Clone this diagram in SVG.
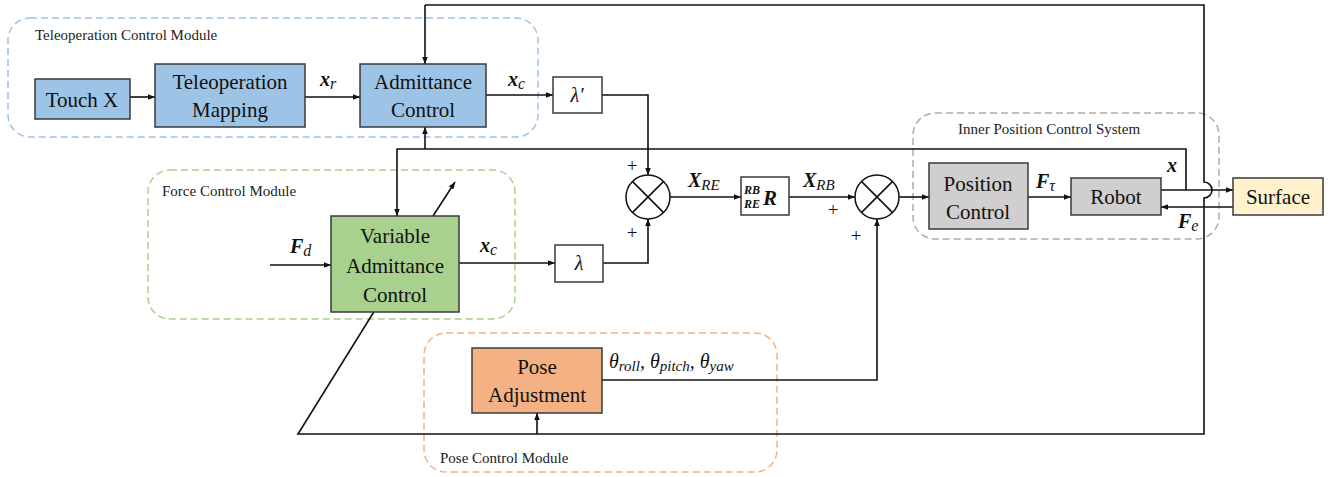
<svg xmlns="http://www.w3.org/2000/svg" width="1335" height="477" viewBox="0 0 1335 477">
<style>
.box{stroke:#3a3a3a;stroke-width:1.5}
.mod{font-family:'Liberation Serif',serif;font-size:15px;fill:#222}
.m{font-family:'Liberation Serif',serif;font-size:20px;fill:#111}
.b{font-weight:bold;font-style:italic}
.i{font-style:italic}
.ln{fill:none;stroke:#111;stroke-width:1.6}
.dash{fill:none;stroke-width:1.5;stroke-dasharray:7,4}
.plus{font-family:'Liberation Serif',serif;font-size:19px;fill:#111;text-anchor:middle}
</style>
<defs>
<marker id="ah" viewBox="0 0 10 10" refX="10" refY="5" markerWidth="7" markerHeight="7" orient="auto" markerUnits="userSpaceOnUse">
<path d="M0,1 L10,5 L0,9 z" fill="#111"/>
</marker>
</defs>
<rect width="1335" height="477" fill="#fff"/>

<g id="modules">
<rect x="8" y="18" width="530" height="119" rx="22" class="dash" stroke="#9DC3E6"/>
<text class="mod" x="35" y="40">Teleoperation Control Module</text>
<rect x="148" y="170" width="367" height="149" rx="22" class="dash" stroke="#A9D18E"/>
<text class="mod" x="162" y="196">Force Control Module</text>
<rect x="424" y="333" width="353" height="139" rx="22" class="dash" stroke="#F4B183"/>
<text class="mod" x="440" y="463">Pose Control Module</text>
<rect x="913" y="113" width="306" height="126" rx="22" class="dash" stroke="#AFABAB"/>
<text class="mod" x="958" y="134">Inner Position Control System</text>
</g>

<g id="connectors">
<line class="ln" x1="130" y1="97" x2="155" y2="97" marker-end="url(#ah)"/>
<line class="ln" x1="305" y1="97" x2="360" y2="97" marker-end="url(#ah)"/>
<line class="ln" x1="486" y1="95" x2="553" y2="95" marker-end="url(#ah)"/>
<polyline class="ln" points="602,95 648,95 648,175" marker-end="url(#ah)"/>
<line class="ln" x1="459" y1="263" x2="555" y2="263" marker-end="url(#ah)"/>
<polyline class="ln" points="603,263 648,263 648,219" marker-end="url(#ah)"/>
<line class="ln" x1="270" y1="265" x2="331" y2="265" marker-end="url(#ah)"/>
<line class="ln" x1="670" y1="197" x2="741" y2="197" marker-end="url(#ah)"/>
<line class="ln" x1="789" y1="197" x2="855" y2="197" marker-end="url(#ah)"/>
<line class="ln" x1="899" y1="197" x2="929" y2="197" marker-end="url(#ah)"/>
<line class="ln" x1="1028" y1="197" x2="1071" y2="197" marker-end="url(#ah)"/>
<line class="ln" x1="1161" y1="190" x2="1233" y2="190" marker-end="url(#ah)"/>
<line class="ln" x1="1233" y1="207" x2="1161" y2="207" marker-end="url(#ah)"/>
<polyline class="ln" points="1186,190 1186,149 397,149 397,216" marker-end="url(#ah)"/>
<line class="ln" x1="425" y1="149" x2="425" y2="127" marker-end="url(#ah)"/>
<polyline class="ln" points="602,380 877,380 877,219" marker-end="url(#ah)"/>
<path class="ln" d="M425,5 L1204,5 L1204,182 A8,8 0 0 1 1204,198 L1204,434 L298,434 L375,310"/>
<line class="ln" x1="537" y1="434" x2="537" y2="413" marker-end="url(#ah)"/>
<line class="ln" x1="433" y1="216" x2="455" y2="182" marker-end="url(#ah)"/>
<line class="ln" x1="425" y1="5" x2="425" y2="64" marker-end="url(#ah)"/>
</g>

<g font-family="Liberation Serif" font-size="21" fill="#111" text-anchor="middle">
<g id="touchx"><rect class="box" x="35" y="79" width="95" height="40" fill="#9DC3E6"/><text x="82" y="107">Touch X</text></g>
<g id="mapping"><rect class="box" x="155" y="64" width="150" height="63" fill="#9DC3E6"/><text x="230" y="89">Teleoperation</text><text x="230" y="117">Mapping</text></g>
<g id="admittance"><rect class="box" x="360" y="64" width="126" height="63" fill="#9DC3E6"/><text x="423" y="89">Admittance</text><text x="423" y="117">Control</text></g>
<g id="vac"><rect class="box" x="331" y="216" width="128" height="96" fill="#A9D18E"/><text x="395" y="243">Variable</text><text x="395" y="273">Admittance</text><text x="395" y="302">Control</text></g>
<g id="position"><rect class="box" x="929" y="163" width="99" height="66" fill="#D0CECE"/><text x="978" y="191">Position</text><text x="978" y="219">Control</text></g>
<g id="robot"><rect class="box" x="1071" y="178" width="90" height="37" fill="#D0CECE"/><text x="1116" y="204">Robot</text></g>
<g id="surface"><rect class="box" x="1233" y="178" width="90" height="37" fill="#FFF2CC"/><text x="1278" y="204">Surface</text></g>
<g id="pose"><rect class="box" x="472" y="348" width="130" height="65" fill="#F4B183"/><text x="537" y="374">Pose</text><text x="537" y="402">Adjustment</text></g>
</g>
<g id="lambdaprime"><rect class="box" x="553" y="77" width="49" height="36" fill="#fff"/><text class="m i" x="577" y="102" text-anchor="middle">λ′</text></g>
<g id="lambda"><rect class="box" x="555" y="245" width="48" height="37" fill="#fff"/><text class="m i" x="579" y="270" text-anchor="middle">λ</text></g>
<g id="sum1"><circle cx="648" cy="197" r="22" fill="#fff" stroke="#111" stroke-width="1.5"/><path class="ln" d="M632.4,181.4 L663.6,212.6 M663.6,181.4 L632.4,212.6"/></g>
<g id="rot"><rect class="box" x="741" y="177" width="48" height="38" fill="#fff"/>
<text class="m b" style="font-size:12px" x="744" y="194">RB</text><text class="m b" style="font-size:12px" x="744" y="208">RE</text><text class="m b" style="font-size:21px" x="763" y="205">R</text></g>
<g id="sum2"><circle cx="877" cy="197" r="22" fill="#fff" stroke="#111" stroke-width="1.5"/><path class="ln" d="M861.4,181.4 L892.6,212.6 M892.6,181.4 L861.4,212.6"/></g>

<g id="labels">
<text class="m" x="320" y="86"><tspan class="b">x</tspan><tspan class="i" font-size="16" dy="3">r</tspan></text>
<text class="m" x="508" y="86"><tspan class="b">x</tspan><tspan class="i" font-size="16" dy="3">c</tspan></text>
<text class="m" x="480" y="252"><tspan class="b">x</tspan><tspan class="i" font-size="16" dy="3">c</tspan></text>
<text class="m" x="290" y="253"><tspan class="b">F</tspan><tspan class="i" font-size="16" dy="3">d</tspan></text>
<text class="m" x="688" y="187"><tspan class="b">X</tspan><tspan class="i" font-size="15" dy="3">RE</tspan></text>
<text class="m" x="803" y="187"><tspan class="b">X</tspan><tspan class="i" font-size="15" dy="3">RB</tspan></text>
<text class="m" x="1036" y="188"><tspan class="b">F</tspan><tspan class="i" font-size="16" dy="3">τ</tspan></text>
<text class="m b" x="1167" y="172">x</text>
<text class="m" x="1178" y="228"><tspan class="b">F</tspan><tspan class="i" font-size="16" dy="3">e</tspan></text>
<text class="m i" x="609" y="368">θ<tspan font-size="15" dy="3">roll</tspan><tspan dy="-3">, θ</tspan><tspan font-size="15" dy="3">pitch</tspan><tspan dy="-3">, θ</tspan><tspan font-size="15" dy="3">yaw</tspan></text>
<text class="plus" x="632" y="172">+</text>
<text class="plus" x="632" y="239">+</text>
<text class="plus" x="833" y="216">+</text>
<text class="plus" x="856" y="242">+</text>
</g>
</svg>
